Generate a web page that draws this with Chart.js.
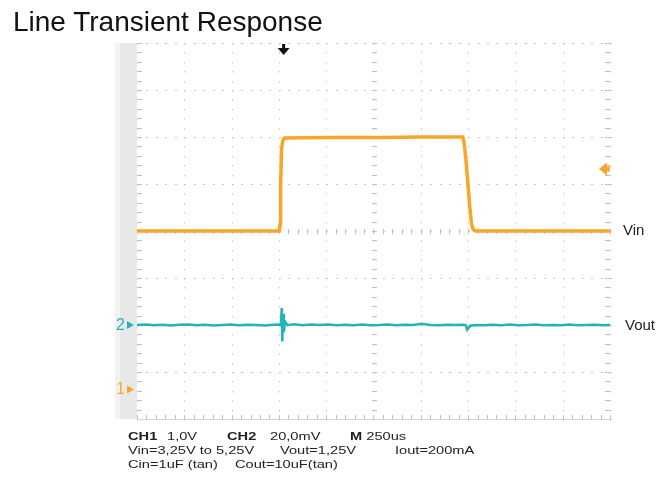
<!DOCTYPE html>
<html>
<head>
<meta charset="utf-8">
<title>Line Transient Response</title>
<script src="https://cdn.jsdelivr.net/npm/chart.js@4/dist/chart.umd.min.js"></script>
<style>
  body { margin: 0; background: #fff; }
  #wrap { position: relative; width: 668px; height: 481px; font-family: "Liberation Sans", Arial, sans-serif; }
  #wrap .lbl { position: absolute; white-space: nowrap; line-height: 1; transform: translateY(-50%); }
  #title { left: 13px; top: 22px; font-size: 28px; color: #111; }
  .info { font-size: 11px; color: #222; transform: translateY(-50%) scaleX(1.33) !important; transform-origin: left center; }
  .info b { font-weight: bold; }
  .trace { font-size: 15px; color: #222; }
  .mark { font-size: 16px; }
</style>
</head>
<body>
<div id="wrap">
  <canvas id="chart" width="668" height="481"></canvas>
  <div class="lbl" id="title">Line Transient Response</div>
  <div class="lbl trace" style="left:623px;top:229px">Vin</div>
  <div class="lbl trace" style="left:625px;top:324px">Vout</div>
  <div class="lbl mark" id="mark2" style="left:116px;color:#27b4b8">2</div>
  <div class="lbl mark" id="mark1" style="left:116px;color:#f7ab2e">1</div>

  <div class="lbl info" style="left:128px;top:436px"><b>CH1</b></div>
  <div class="lbl info" style="left:167px;top:436px">1,0V</div>
  <div class="lbl info" style="left:227px;top:436px"><b>CH2</b></div>
  <div class="lbl info" style="left:270px;top:436px">20,0mV</div>
  <div class="lbl info" style="left:350px;top:436px"><b>M</b> 250us</div>
  <div class="lbl info" style="left:128px;top:450px">Vin=3,25V to 5,25V</div>
  <div class="lbl info" style="left:280px;top:450px">Vout=1,25V</div>
  <div class="lbl info" style="left:395px;top:450px">Iout=200mA</div>
  <div class="lbl info" style="left:128px;top:464px">Cin=1uF (tan)</div>
  <div class="lbl info" style="left:235px;top:464px">Cout=10uF(tan)</div>
</div>

<script>
// scope settings
const timePerDiv = 250      // us
const divsX = 10
const divsY = 8
const vinPerDiv = 1.0       // V
const vinCenter = 3.25      // V at screen centre
const voutPerDiv = 0.02     // V
const voutCenter = 1.29     // V at screen centre (trace sits 2 div below)
const triggerTime = 775     // us
const triggerLevel = 4.57   // V
const ch1Ground = -0.12     // V, where the "1" marker sits

// CH1 - Vin step 3.25V -> 5.25V
const vinTime = [0, 752, 756, 759, 764, 771, 780, 1000, 1300, 1500, 1722, 1730, 1740, 1748, 1758, 1768, 1778, 1790, 2500]
const vinVolts = [3.25, 3.25, 3.40, 4.20, 5.00, 5.18, 5.23, 5.24, 5.24, 5.25, 5.25, 5.10, 4.70, 4.30, 3.80, 3.40, 3.28, 3.25, 3.25]

// CH2 - Vout around 1.25V
const voutTime = [
  0, 45, 90, 135, 180, 225, 270, 315, 360, 405, 450, 495, 540, 585, 630, 675, 720,
  750, 760, 765, 768, 772, 776, 782, 795,
  830, 875, 920, 965, 1010, 1055, 1100, 1145, 1190, 1235, 1280, 1325, 1370, 1415, 1460, 1505, 1550, 1595, 1640, 1685,
  1725, 1738, 1745, 1752, 1762, 1790,
  1835, 1880, 1925, 1970, 2015, 2060, 2105, 2150, 2195, 2240, 2285, 2330, 2375, 2420, 2465,
  2500
]
const voutVolts = [
  1.2500, 1.2502, 1.2499, 1.2501, 1.2498, 1.2501, 1.2502, 1.2499, 1.2501, 1.2498, 1.2500, 1.2502, 1.2499, 1.2501, 1.2500, 1.2498, 1.2501,
  1.2502, 1.2499, 1.2572, 1.2430, 1.2548, 1.2470, 1.2515, 1.2499,
  1.2503, 1.2499, 1.2502, 1.2500, 1.2502, 1.2499, 1.2501, 1.2499, 1.2502, 1.2499, 1.2500, 1.2502, 1.2499, 1.2501, 1.2500, 1.2505, 1.2500, 1.2499, 1.2501, 1.2500,
  1.2501, 1.2499, 1.2480, 1.2486, 1.2497, 1.2500,
  1.2499, 1.2501, 1.2499, 1.2502, 1.2499, 1.2500, 1.2502, 1.2499, 1.2500, 1.2499, 1.2502, 1.2499, 1.2500, 1.2501, 1.2499,
  1.2500
]

const orange = '#f7a626'
const teal = '#25b3b6'

function toPoints(xs, ys) {
  return xs.map((x, i) => ({ x: x, y: ys[i] }))
}

// graticule, side bar and trigger arrows, drawn under the traces
const scopeScreen = {
  id: 'scopeScreen',
  beforeDatasetsDraw(chart) {
    const { ctx, chartArea: a, scales } = chart
    const x = scales.x
    const y = scales.yVin
    const step = x.width / divsX / 5
    const stepY = y.height / divsY / 5

    ctx.save()

    // grey strip on the left
    ctx.fillStyle = '#e8e8e8'
    ctx.fillRect(a.left - 22, a.top, 22, a.height)
    ctx.fillStyle = '#f2f2f2'
    ctx.fillRect(a.left - 22, a.top, 5, a.height)

    ctx.fillStyle = '#c8c8c8'
    // major lines as dots
    for (let i = 0; i <= divsX; i++) {
      const px = Math.round(x.getPixelForValue(i * timePerDiv))
      for (let yy = a.top; yy <= a.bottom; yy += stepY) {
        ctx.fillRect(px, Math.round(yy), 1, 1.5)
      }
    }
    for (let j = 0; j <= divsY; j++) {
      const py = Math.round(y.getPixelForValue(vinCenter + (j - divsY / 2) * vinPerDiv))
      for (let xx = a.left; xx <= a.right; xx += step) {
        ctx.fillRect(Math.round(xx), py, 2, 1)
      }
    }

    // minor ticks on edges and centre lines
    ctx.fillStyle = '#c0c0c0'
    const cy = Math.round(y.getPixelForValue(vinCenter))
    const cx = Math.round(x.getPixelForValue(divsX / 2 * timePerDiv))
    for (let xx = a.left; xx <= a.right + 0.5; xx += step) {
      const px = Math.round(xx)
      ctx.fillRect(px, cy - 2, 1, 5)
      ctx.fillRect(px, a.bottom - 4, 1, 4)
    }
    for (let yy = a.top; yy <= a.bottom + 0.5; yy += stepY) {
      const py = Math.round(yy)
      ctx.fillRect(cx - 2, py, 5, 1)
      ctx.fillRect(a.left, py, 5, 1)
      ctx.fillRect(a.right - 5, py, 5, 1)
    }
    ctx.fillStyle = '#d2d2d2'
    ctx.fillRect(a.left, a.bottom, a.width, 1)

    // trigger position arrow on top
    const tx = x.getPixelForValue(triggerTime)
    ctx.fillStyle = '#111'
    ctx.fillRect(tx - 1.5, a.top + 1, 3, 5)
    ctx.beginPath()
    ctx.moveTo(tx - 6, a.top + 5)
    ctx.lineTo(tx + 6, a.top + 5)
    ctx.lineTo(tx, a.top + 12)
    ctx.closePath()
    ctx.fill()

    // trigger level arrow on the right
    const ty = y.getPixelForValue(triggerLevel)
    ctx.fillStyle = orange
    ctx.beginPath()
    ctx.moveTo(a.right - 11, ty)
    ctx.lineTo(a.right - 3, ty - 6.5)
    ctx.lineTo(a.right - 3, ty + 6.5)
    ctx.closePath()
    ctx.fill()
    ctx.fillRect(a.right - 4, ty - 2.5, 4, 5)

    // channel ground markers
    const g1 = y.getPixelForValue(ch1Ground)
    const g2 = scales.yVout.getPixelForValue(voutCenter - 2 * voutPerDiv)
    ;[[g1, orange], [g2, teal]].forEach(([gy, col]) => {
      ctx.fillStyle = col
      ctx.beginPath()
      ctx.moveTo(a.left - 10, gy - 4)
      ctx.lineTo(a.left - 3, gy)
      ctx.lineTo(a.left - 10, gy + 4)
      ctx.closePath()
      ctx.fill()
    })

    ctx.restore()
  }
}

const chart = new Chart(document.getElementById('chart'), {
  type: 'line',
  data: {
    datasets: [
      {
        label: 'Vin',
        data: toPoints(vinTime, vinVolts),
        yAxisID: 'yVin',
        borderColor: orange,
        borderWidth: 3.5,
        pointRadius: 0,
        tension: 0
      },
      {
        label: 'Vout',
        data: toPoints(voutTime, voutVolts),
        yAxisID: 'yVout',
        borderColor: teal,
        borderWidth: 2.5,
        pointRadius: 0,
        tension: 0
      }
    ]
  },
  options: {
    responsive: false,
    animation: false,
    layout: { padding: { left: 137, right: 58, top: 43, bottom: 62 } },
    plugins: { legend: { display: false }, tooltip: { enabled: false } },
    scales: {
      x: { type: 'linear', display: false, min: 0, max: divsX * timePerDiv },
      yVin: {
        display: false,
        min: vinCenter - divsY / 2 * vinPerDiv,
        max: vinCenter + divsY / 2 * vinPerDiv
      },
      yVout: {
        display: false,
        min: voutCenter - divsY / 2 * voutPerDiv,
        max: voutCenter + divsY / 2 * voutPerDiv
      }
    }
  },
  plugins: [scopeScreen]
})

// put the channel numbers next to their ground arrows
document.getElementById('mark1').style.top = chart.scales.yVin.getPixelForValue(ch1Ground) + 'px'
document.getElementById('mark2').style.top = chart.scales.yVout.getPixelForValue(voutCenter - 2 * voutPerDiv) + 'px'
</script>
</body>
</html>
